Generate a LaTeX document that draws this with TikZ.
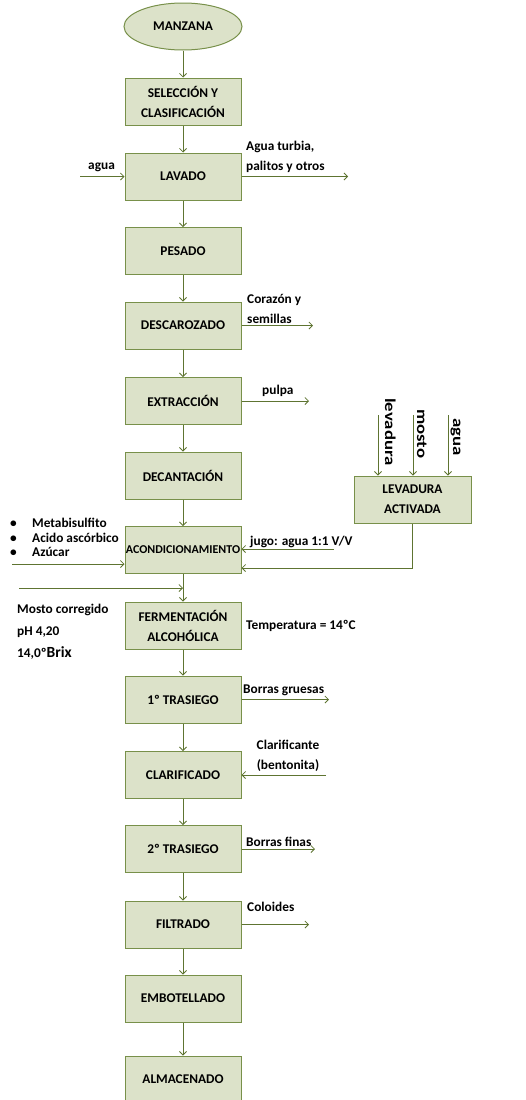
\documentclass[tikz,border=0pt]{standalone}
\usepackage{fontspec}
\setmainfont{Carlito}[BoldFont={Carlito Bold}]
\usetikzlibrary{arrows.meta,shapes.geometric}
\definecolor{lc}{HTML}{5E7431}
\definecolor{bc}{HTML}{78904A}
\definecolor{fc}{HTML}{DCE2C9}
\begin{document}
\begin{tikzpicture}[x=1pt,y=-1pt,
  every node/.style={font=\bfseries\fontsize{13.33}{20}\selectfont, inner sep=0pt, text=black},
  proc/.style={draw=bc, fill=fc, line width=1pt, minimum width=116pt, minimum height=47pt, align=center},
  arr/.style={draw=lc, line width=0.9pt, -{Straight Barb[length=3.5pt,width=7pt,line width=0.8pt]}},
  lbl/.style={anchor=base west, align=left},
  rot/.style={rotate=-90, anchor=base west, font=\bfseries\fontsize{15}{18}\selectfont},
]
\useasboundingbox (0,0) rectangle (526,1100);

% main column
\node[ellipse, draw=bc, fill=fc, line width=1pt, minimum width=118pt, minimum height=47pt] (manz) at (183,26.5) {MANZANA};
\node[proc] (sel) at (183,101.5) {SELECCIÓN Y\\CLASIFICACIÓN};
\node[proc] (lav) at (183,176.5) {LAVADO};
\node[proc] (pes) at (183,251) {PESADO};
\node[proc] (desc) at (183,325.5) {DESCAROZADO};
\node[proc] (ext) at (183,401) {EXTRACCIÓN};
\node[proc] (dec) at (183,475.5) {DECANTACIÓN};
\node[proc, font=\bfseries\fontsize{12}{18}\selectfont] (acond) at (183,550) {ACONDICIONAMIENTO};
\node[proc] (ferm) at (183,625.5) {FERMENTACIÓN\\ALCOHÓLICA};
\node[proc] (tras1) at (183,699.5) {1º TRASIEGO};
\node[proc] (clar) at (183,775) {CLARIFICADO};
\node[proc] (tras2) at (183,849) {2º TRASIEGO};
\node[proc] (filt) at (183,924.5) {FILTRADO};
\node[proc] (emb) at (183,998.5) {EMBOTELLADO};
\node[proc] (alm) at (183,1079.5) {ALMACENADO};

% yeast box
\node[proc, minimum width=117pt] (lev) at (412.5,499.5) {LEVADURA\\ACTIVADA};

% main arrows
\draw[arr] (manz) -- (sel);
\draw[arr] (sel) -- (lav);
\draw[arr] (lav) -- (pes);
\draw[arr] (pes) -- (desc);
\draw[arr] (desc) -- (ext);
\draw[arr] (ext) -- (dec);
\draw[arr] (dec) -- (acond);
\draw[arr] (acond) -- (ferm);
\draw[arr] (ferm) -- (tras1);
\draw[arr] (tras1) -- (clar);
\draw[arr] (clar) -- (tras2);
\draw[arr] (tras2) -- (filt);
\draw[arr] (filt) -- (emb);
\draw[arr] (emb) -- (alm);

% side flows
\coordinate (aguaL) at (80,176.5);
\draw[arr] (aguaL) -- (lav.west);
\node[lbl] (laguaL) at (88,169) {agua};

\coordinate (turbia) at (348,176.5);
\draw[arr] (lav.east) -- (turbia);
\node[lbl] (lturbia) at (246,170) {Agua turbia,\\palitos y otros};

\coordinate (coraz) at (313,325.5);
\draw[arr] (desc.east) -- (coraz);
\node[lbl] (lcoraz) at (247,323) {Corazón y\\semillas};

\coordinate (pulpa) at (309,401);
\draw[arr] (ext.east) -- (pulpa);
\node[lbl] (lpulpa) at (262,394) {pulpa};

% yeast inputs
\coordinate (in1) at (378,415);
\coordinate (in2) at (413,415);
\coordinate (in3) at (448,415);
\draw[arr] (in1) -- (in1 |- lev.north);
\draw[arr] (in2) -- (in2 |- lev.north);
\draw[arr] (in3) -- (in3 |- lev.north);
\node[rot] (lin1) at (385,398) {\scalebox{1.25}[1]{levadura}};
\node[rot] (lin2) at (417,409) {\scalebox{1.25}[1]{mosto}};
\node[rot] (lin3) at (453,418) {\scalebox{1.25}[1]{agua}};

\coordinate (levout) at (412.5,568);
\draw[arr] (lev.south) -- (levout) -- (levout -| acond.east);

\coordinate (jugo) at (334,549);
\draw[arr] (jugo) -- (jugo -| acond.east);
\node[lbl] (ljugo) at (250,545.5) {jugo: agua 1:1 V/V};

\coordinate (aditL) at (12,564);
\draw[arr] (aditL) -- (aditL -| acond.west);
\node[lbl, font=\bfseries\fontsize{13.33}{14.5}\selectfont] (ladit) at (10,556.7)
  {\makebox[22pt][l]{•}Metabisulfito\\\makebox[22pt][l]{•}Acido ascórbico\\\makebox[22pt][l]{•}Azúcar};

\coordinate (mostoL) at (19,588);
\draw[arr] (mostoL) -- (mostoL -| acond.south);
\node[lbl, font=\bfseries\fontsize{13.33}{22}\selectfont] (lmosto) at (17,657)
  {Mosto corregido\\pH 4,20\\14,0º{\fontsize{15.5}{22}\selectfont Brix}};

\node[lbl] (ltemp) at (246,629) {Temperatura = 14ºC};

\coordinate (gruesas) at (329,699.5);
\draw[arr] (tras1.east) -- (gruesas);
\node[lbl] (lgruesas) at (243,693) {Borras gruesas};

\coordinate (clarin) at (326,775);
\draw[arr] (clarin) -- (clar.east);
\node[anchor=base, align=center] (lclarin) at (288,769) {Clarificante\\(bentonita)};

\coordinate (finas) at (315,849);
\draw[arr] (tras2.east) -- (finas);
\node[lbl] (lfinas) at (246,846) {Borras finas};

\coordinate (coloid) at (309,924.5);
\draw[arr] (filt.east) -- (coloid);
\node[lbl] (lcoloid) at (247,911) {Coloides};
\end{tikzpicture}
\end{document}
